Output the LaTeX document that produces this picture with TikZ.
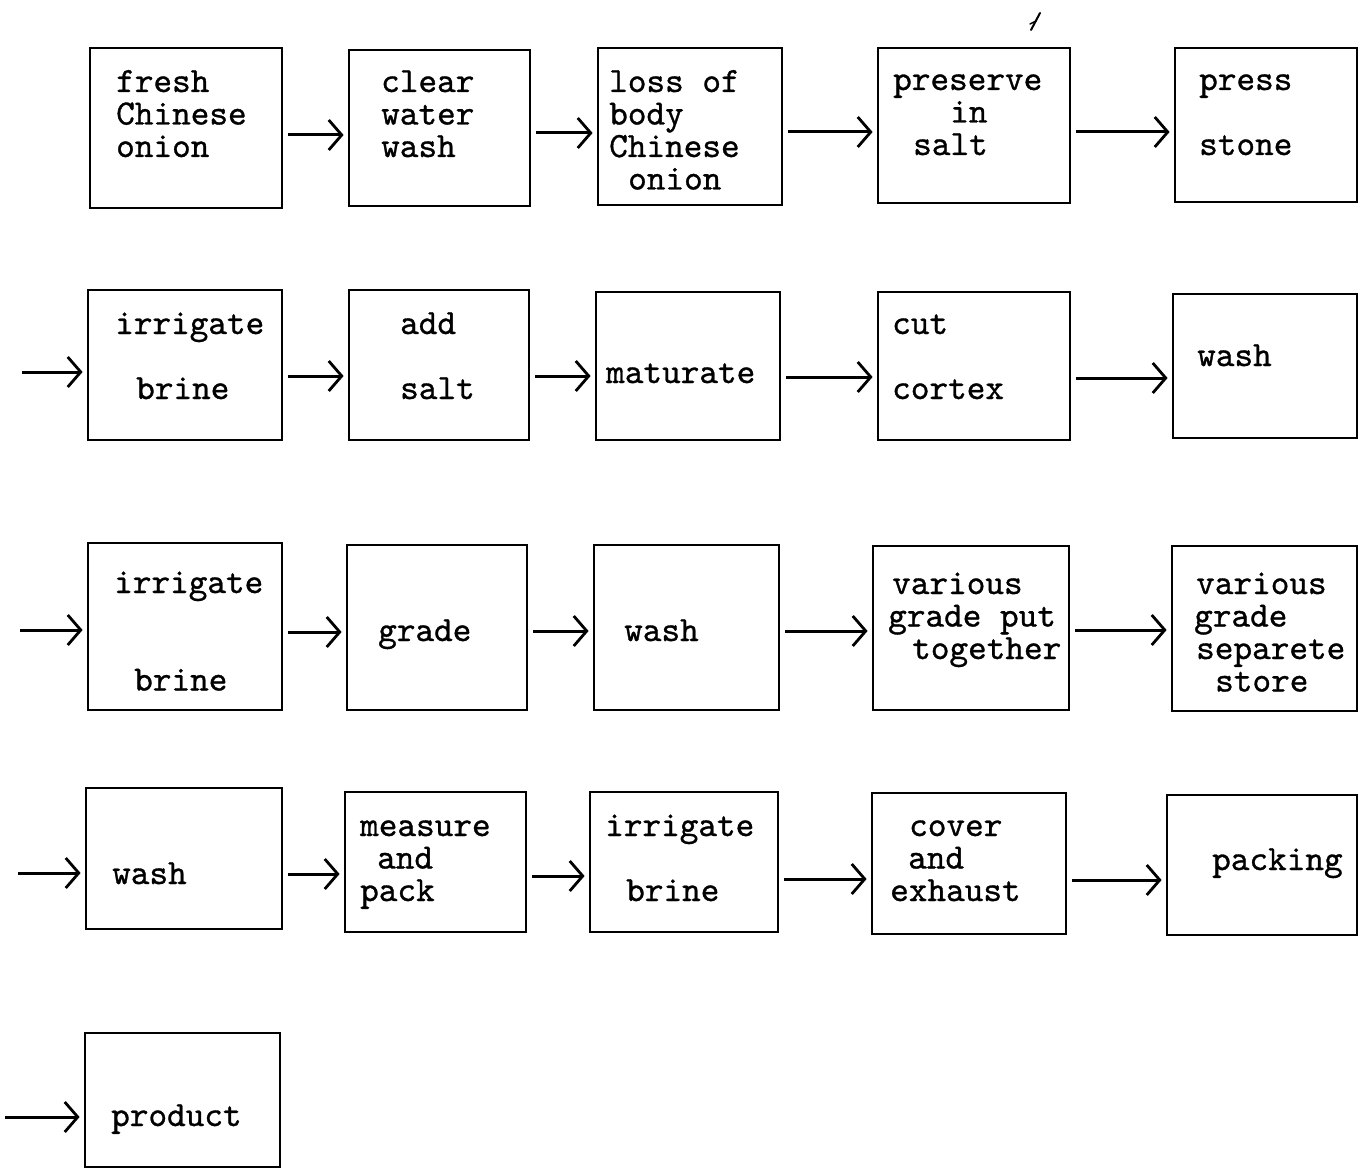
\documentclass[tikz,border=0pt]{standalone}
\usepackage{fontspec}
\newfontfamily\typer[FakeBold=0.9]{lmmono10-regular.otf}
\usetikzlibrary{arrows.meta,fit}
\newcommand\typed[1]{\begin{tabular}[t]{@{}l@{}}#1\end{tabular}}
\tikzset{
  box/.style={draw, line width=2.8pt, inner sep=0pt},
  txt/.style={anchor=base west, inner sep=0pt, font=\typer\fontsize{35.5}{32.5}\selectfont},
  flow/.style={line width=3pt, -{Straight Barb[length=13pt,width=30pt,line width=2.8pt]},
    shorten <=5pt, shorten >=4pt},
  feed/.style={flow, shorten <=0pt}
}
\begin{document}
\begin{tikzpicture}[x=1pt,y=-1pt]
\useasboundingbox (0,0) rectangle (1371,1169);

% ---- process boxes ----
\node[box, fit={(90,48) (282,208)}]   (b11) {};
\node[box, fit={(349,50) (530,206)}]  (b12) {};
\node[box, fit={(598,48) (782,205)}]  (b13) {};
\node[box, fit={(878,48) (1070,203)}] (b14) {};
\node[box, fit={(1175,48) (1357,202)}] (b15) {};

\node[box, fit={(88,290) (282,440)}]   (b21) {};
\node[box, fit={(349,290) (529,440)}]  (b22) {};
\node[box, fit={(596,292) (780,440)}]  (b23) {};
\node[box, fit={(878,292) (1070,440)}] (b24) {};
\node[box, fit={(1173,294) (1357,438)}] (b25) {};

\node[box, fit={(88,543) (282,710)}]   (b31) {};
\node[box, fit={(347,545) (527,710)}]  (b32) {};
\node[box, fit={(594,545) (779,710)}]  (b33) {};
\node[box, fit={(873,546) (1069,710)}] (b34) {};
\node[box, fit={(1172,546) (1357,711)}] (b35) {};

\node[box, fit={(86,788) (282,929)}]   (b41) {};
\node[box, fit={(345,792) (526,932)}]  (b42) {};
\node[box, fit={(590,792) (778,932)}]  (b43) {};
\node[box, fit={(872,793) (1066,934)}] (b44) {};
\node[box, fit={(1167,795) (1357,935)}] (b45) {};

\node[box, fit={(85,1033) (280,1167)}] (b51) {};

% ---- typed labels ----
\node[txt] (t11) at (116,92)  {\typed{fresh\\Chinese\\onion}};
\node[txt] (t12) at (381,92)  {\typed{clear\\water\\wash}};
\node[txt] (t13) at (609,92)  {\typed{loss of\\body\\Chinese\\\hspace*{19pt}onion}};
\node[txt] (t14) at (893,90)  {\typed{preserve\\\hspace*{57pt}in\\\hspace*{20pt}salt}};
\node[txt] (t15) at (1199,90) {\typed{press\\\\stone}};

\node[txt] (t21) at (115,334) {\typed{irrigate\\\\\hspace*{21pt}brine}};
\node[txt] (t22) at (400,334) {\typed{add\\\\salt}};
\node[txt] (t23) at (606,383) {maturate};
\node[txt] (t24) at (892,334) {\typed{cut\\\\cortex}};
\node[txt] (t25) at (1197,366) {wash};

\node[txt] (t31) at (114,593) {\typed{irrigate\\\\\\\hspace*{20pt}brine}};
\node[txt] (t32) at (378,641) {grade};
\node[txt] (t33) at (624,641) {wash};
\node[txt] (t34) at (888,594) {\typed{\hspace*{4pt}various\\grade put\\\hspace*{24pt}together}};
\node[txt] (t35) at (1194,594) {\typed{\hspace*{2pt}various\\grade\\\hspace*{2pt}separete\\\hspace*{21pt}store}};

\node[txt] (t41) at (112,884) {wash};
\node[txt] (t42) at (360,836) {\typed{measure\\\hspace*{17pt}and\\pack}};
\node[txt] (t43) at (605,836) {\typed{irrigate\\\\\hspace*{21pt}brine}};
\node[txt] (t44) at (890,836) {\typed{\hspace*{19pt}cover\\\hspace*{18pt}and\\exhaust}};
\node[txt] (t45) at (1212,870) {packing};

\node[txt] (t51) at (111,1126) {product};

% ---- flow arrows ----
\draw[flow] ([yshift=-7pt]b11.east)   -- ([yshift=-7pt]b11.east -| b12.west);
\draw[flow] ([yshift=-5pt]b12.east)   -- ([yshift=-5pt]b12.east -| b13.west);
\draw[flow] ([yshift=-5.5pt]b13.east) -- ([yshift=-5.5pt]b13.east -| b14.west);
\draw[flow] ([yshift=-6.5pt]b14.east) -- ([yshift=-6.5pt]b14.east -| b15.west);

\coordinate (in2) at (22,372);
\draw[feed] (in2) -- (in2 -| b21.west);
\draw[flow] ([yshift=-11pt]b21.east) -- ([yshift=-11pt]b21.east -| b22.west);
\draw[flow] ([yshift=-11pt]b22.east) -- ([yshift=-11pt]b22.east -| b23.west);
\draw[flow] ([yshift=-11pt]b23.east) -- ([yshift=-11pt]b23.east -| b24.west);
\draw[flow] ([yshift=-12pt]b24.east) -- ([yshift=-12pt]b24.east -| b25.west);

\coordinate (in3) at (20,630);
\draw[feed] (in3) -- (in3 -| b31.west);
\draw[flow] ([yshift=-5.5pt]b31.east) -- ([yshift=-5.5pt]b31.east -| b32.west);
\draw[flow] ([yshift=-3.5pt]b32.east) -- ([yshift=-3.5pt]b32.east -| b33.west);
\draw[flow] ([yshift=-3.5pt]b33.east) -- ([yshift=-3.5pt]b33.east -| b34.west);
\draw[flow] ([yshift=-2pt]b34.east)   -- ([yshift=-2pt]b34.east -| b35.west);

\coordinate (in4) at (18,873);
\draw[feed] (in4) -- (in4 -| b41.west);
\draw[flow] ([yshift=-15.5pt]b41.east) -- ([yshift=-15.5pt]b41.east -| b42.west);
\draw[flow] ([yshift=-14pt]b42.east)   -- ([yshift=-14pt]b42.east -| b43.west);
\draw[flow] ([yshift=-17pt]b43.east)   -- ([yshift=-17pt]b43.east -| b44.west);
\draw[flow] ([yshift=-16.5pt]b44.east) -- ([yshift=-16.5pt]b44.east -| b45.west);

\coordinate (in5) at (5,1117);
\draw[feed] (in5) -- (in5 -| b51.west);

% ---- pencil tick above the fourth box ----
\draw[line width=2pt, line cap=round] (1031,30) -- (1040,13);
\draw[line width=1.4pt, line cap=round] (1030,24) -- (1036,21);
\end{tikzpicture}
\end{document}
